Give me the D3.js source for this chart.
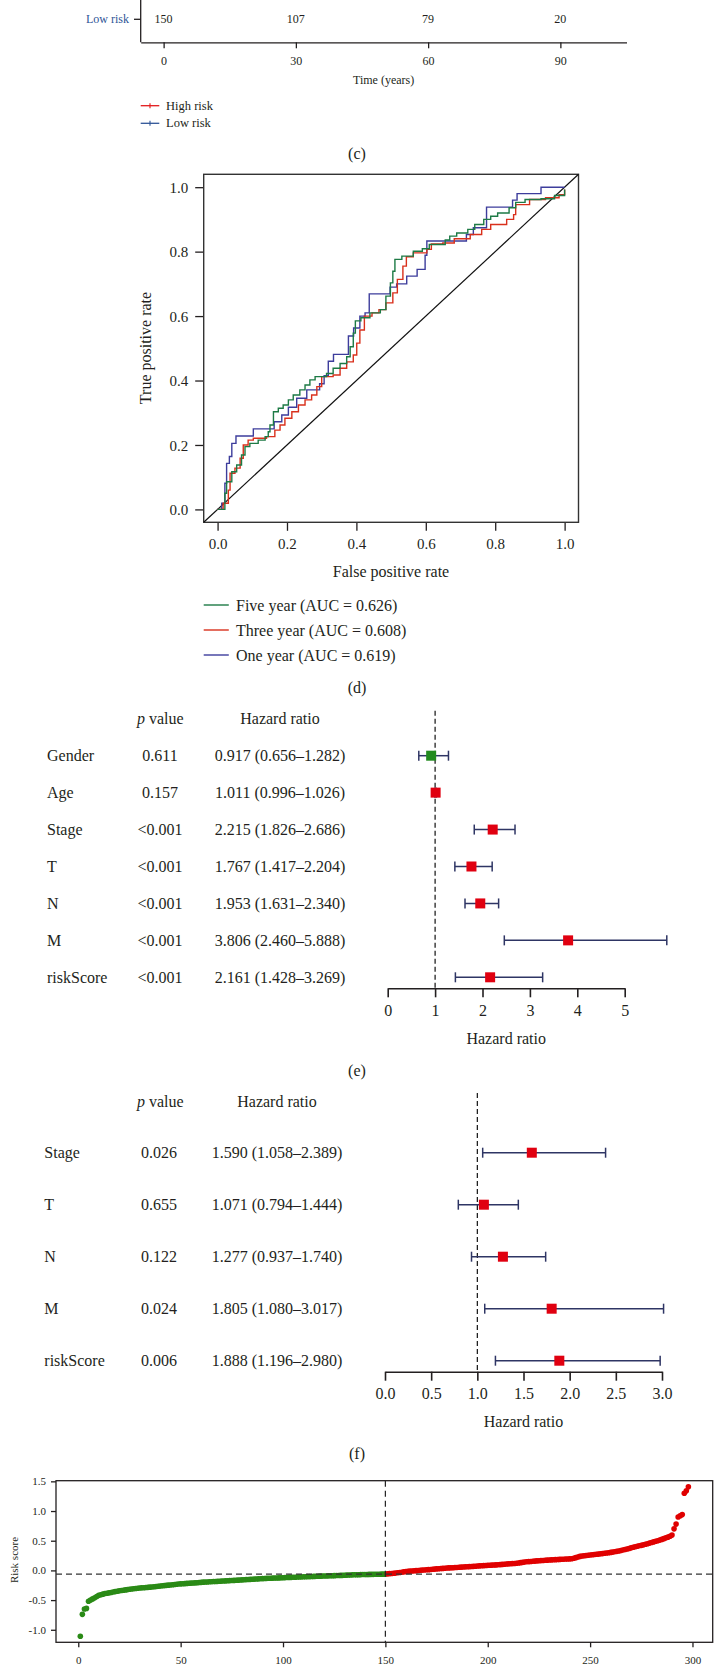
<!DOCTYPE html>
<html><head><meta charset="utf-8">
<script src="https://cdn.jsdelivr.net/npm/d3@7"></script>
<style>
body{margin:0;background:#fff}
svg{display:block;background:#fff}
text{font-family:"Liberation Serif","Times New Roman",serif;fill:#231f20}
</style>
</head><body>
<svg id="fig" width="714" height="1665"></svg>
<script>
// ---------- Panel (c) remnant: number at risk ----------
const kmTimes = [0, 30, 60, 90];
const lowRiskAtRisk = [150, 107, 79, 20];
const kmGroups = ["High risk", "Low risk"];
const kmColors = ["#e31a1c", "#2f5597"];

// ---------- Panel (d): ROC ----------
const rocLabels = ["Five year (AUC = 0.626)", "Three year (AUC = 0.608)", "One year (AUC = 0.619)"];
const rocColors = ["#1d7a45", "#d9301c", "#3d3d9c"];
const rocFiveYear = [[0,0],[0.021,0.05],[0.026,0.086],[0.041,0.117],[0.055,0.138],[0.069,0.169],[0.079,0.195],[0.093,0.205],[0.117,0.215],[0.137,0.226],[0.146,0.241],[0.151,0.262],[0.161,0.303],[0.175,0.314],[0.189,0.324],[0.204,0.34],[0.218,0.355],[0.237,0.371],[0.252,0.386],[0.266,0.402],[0.281,0.412],[0.314,0.422],[0.333,0.438],[0.353,0.453],[0.372,0.474],[0.382,0.505],[0.391,0.547],[0.397,0.585],[0.413,0.595],[0.439,0.61],[0.469,0.62],[0.485,0.662],[0.498,0.703],[0.505,0.739],[0.511,0.776],[0.531,0.786],[0.564,0.801],[0.59,0.809],[0.61,0.822],[0.656,0.836],[0.669,0.848],[0.689,0.858],[0.721,0.869],[0.741,0.884],[0.767,0.9],[0.787,0.91],[0.807,0.92],[0.84,0.936],[0.859,0.953],[0.886,0.962],[0.932,0.964],[0.971,0.974],[1,0.993]];
const rocThreeYear = [[0,0],[0.016,0.019],[0.031,0.06],[0.036,0.112],[0.05,0.128],[0.065,0.159],[0.074,0.2],[0.088,0.215],[0.103,0.221],[0.141,0.226],[0.165,0.246],[0.18,0.262],[0.194,0.283],[0.214,0.303],[0.233,0.324],[0.252,0.34],[0.271,0.355],[0.286,0.381],[0.3,0.412],[0.333,0.417],[0.353,0.438],[0.372,0.458],[0.391,0.479],[0.401,0.516],[0.41,0.557],[0.423,0.6],[0.445,0.61],[0.465,0.62],[0.485,0.641],[0.505,0.672],[0.518,0.714],[0.534,0.755],[0.544,0.784],[0.564,0.796],[0.603,0.807],[0.616,0.824],[0.649,0.827],[0.682,0.84],[0.728,0.853],[0.761,0.869],[0.787,0.884],[0.833,0.9],[0.853,0.915],[0.859,0.946],[0.899,0.962],[0.945,0.967],[0.984,0.977],[1,0.993]];
const rocOneYear = [[0,0],[0.012,0.019],[0.021,0.081],[0.026,0.143],[0.034,0.164],[0.041,0.205],[0.053,0.228],[0.103,0.25],[0.163,0.272],[0.185,0.293],[0.204,0.317],[0.228,0.345],[0.257,0.371],[0.294,0.39],[0.307,0.415],[0.319,0.46],[0.334,0.481],[0.377,0.538],[0.392,0.563],[0.41,0.6],[0.425,0.61],[0.437,0.669],[0.497,0.69],[0.516,0.70],[0.545,0.724],[0.575,0.745],[0.598,0.789],[0.603,0.833],[0.717,0.853],[0.737,0.874],[0.775,0.938],[0.85,0.96],[0.863,0.98],[0.932,1.0],[1.0,1.0]];
const rocTicks = [0, 0.2, 0.4, 0.6, 0.8, 1.0];

// ---------- Panel (e): univariate Cox ----------
const uniVars = ["Gender", "Age", "Stage", "T", "N", "M", "riskScore"];
const uniP = ["0.611", "0.157", "<0.001", "<0.001", "<0.001", "<0.001", "<0.001"];
const uniHR = [0.917, 1.011, 2.215, 1.767, 1.953, 3.806, 2.161];
const uniLow = [0.656, 0.996, 1.826, 1.417, 1.631, 2.460, 1.428];
const uniHigh = [1.282, 1.026, 2.686, 2.204, 2.340, 5.888, 3.269];
const uniTicks = [0, 1, 2, 3, 4, 5];

// ---------- Panel (f): multivariate Cox ----------
const multiVars = ["Stage", "T", "N", "M", "riskScore"];
const multiP = ["0.026", "0.655", "0.122", "0.024", "0.006"];
const multiHR = [1.590, 1.071, 1.277, 1.805, 1.888];
const multiLow = [1.058, 0.794, 0.937, 1.080, 1.196];
const multiHigh = [2.389, 1.444, 1.740, 3.017, 2.980];
const multiTicks = [0, 0.5, 1.0, 1.5, 2.0, 2.5, 3.0];

// ---------- Panel (g): risk score distribution ----------
const lowRiskScores = [
-1.11,-0.74,-0.65,-0.64,-0.52,-0.50,-0.48,-0.46,-0.44,-0.42,
-0.41,-0.40,-0.39,-0.385,-0.378,-0.371,-0.364,-0.357,-0.350,-0.344,
-0.338,-0.333,-0.328,-0.323,-0.318,-0.313,-0.309,-0.305,-0.301,-0.297,
-0.294,-0.291,-0.288,-0.285,-0.282,-0.279,-0.276,-0.272,-0.268,-0.264,
-0.260,-0.256,-0.252,-0.248,-0.245,-0.242,-0.238,-0.234,-0.230,-0.226,
-0.224,-0.222,-0.219,-0.217,-0.215,-0.212,-0.210,-0.207,-0.204,-0.201,
-0.198,-0.196,-0.194,-0.192,-0.190,-0.188,-0.186,-0.184,-0.182,-0.180,
-0.178,-0.176,-0.174,-0.172,-0.170,-0.168,-0.166,-0.164,-0.161,-0.159,
-0.157,-0.155,-0.153,-0.151,-0.149,-0.146,-0.144,-0.142,-0.140,-0.138,
-0.136,-0.134,-0.133,-0.131,-0.130,-0.128,-0.127,-0.126,-0.124,-0.123,
-0.121,-0.120,-0.118,-0.117,-0.115,-0.114,-0.112,-0.111,-0.110,-0.108,
-0.107,-0.105,-0.104,-0.103,-0.101,-0.100,-0.099,-0.097,-0.096,-0.095,
-0.093,-0.092,-0.091,-0.089,-0.088,-0.087,-0.085,-0.084,-0.083,-0.081,
-0.080,-0.078,-0.077,-0.075,-0.074,-0.073,-0.072,-0.071,-0.070,-0.069,
-0.068,-0.067,-0.066,-0.066,-0.065,-0.064,-0.064,-0.063,-0.063,-0.062];
const highRiskScores = [
-0.058,-0.055,-0.052,-0.048,-0.045,-0.040,-0.036,-0.030,-0.025,-0.020,
-0.016,-0.012,-0.009,-0.007,-0.004,-0.001,0.002,0.005,0.008,0.010,
0.013,0.016,0.019,0.022,0.025,0.028,0.031,0.034,0.037,0.040,
0.042,0.044,0.046,0.048,0.050,0.053,0.055,0.057,0.060,0.062,
0.064,0.066,0.068,0.071,0.074,0.077,0.079,0.081,0.083,0.085,
0.087,0.089,0.091,0.093,0.095,0.098,0.101,0.104,0.107,0.110,
0.113,0.115,0.117,0.121,0.126,0.131,0.136,0.140,0.145,0.148,
0.151,0.154,0.157,0.160,0.162,0.165,0.168,0.170,0.173,0.175,
0.177,0.179,0.181,0.183,0.185,0.187,0.189,0.191,0.193,0.195,
0.197,0.205,0.215,0.226,0.236,0.242,0.247,0.251,0.255,0.259,
0.263,0.267,0.271,0.275,0.279,0.283,0.288,0.293,0.298,0.303,
0.308,0.314,0.321,0.328,0.336,0.344,0.352,0.361,0.370,0.380,
0.390,0.398,0.406,0.414,0.422,0.430,0.440,0.450,0.460,0.470,
0.480,0.490,0.500,0.510,0.522,0.535,0.548,0.560,0.575,0.595,
0.70,0.78,0.90,0.92,0.94,1.30,1.34,1.41];
const riskCutoff = -0.062;
const riskYTicks = [-1.0, -0.5, 0.0, 0.5, 1.0, 1.5];
const riskXTicks = [0, 50, 100, 150, 200, 250, 300];
const riskColors = ["#2a8a16", "#e00000"];

// =====================================================
const svg = d3.select("#fig");
const INK = "#231f20";
function styleAxis(g, fs) {
  g.attr("font-family", null).attr("font-size", fs);
  g.selectAll("text").attr("fill", INK);
  g.selectAll("line,path").attr("stroke", INK).attr("stroke-width", 1.3);
}
function panelLabel(t, y) {
  svg.append("text").attr("x", 357).attr("y", y).attr("text-anchor", "middle")
    .attr("dominant-baseline", "central").attr("font-size", 16).text(t);
}

// ---------- (c) ----------
{
  const x = d3.scaleLinear().domain([-5.2, 105]).range([140.7, 626.5]);
  const axisY = 42.3, rowY = 19.3;
  svg.append("line").attr("x1", 140.7).attr("x2", 140.7).attr("y1", 0).attr("y2", axisY)
    .attr("stroke", INK).attr("stroke-width", 1.3);
  const ax = svg.append("g").attr("transform", `translate(0,${axisY})`)
    .call(d3.axisBottom(x).tickValues(kmTimes).tickSize(6).tickSizeOuter(0).tickPadding(8));
  styleAxis(ax, 12);
  svg.append("line").attr("x1", 134).attr("x2", 140.7).attr("y1", rowY).attr("y2", rowY)
    .attr("stroke", INK).attr("stroke-width", 1.3);
  svg.append("text").attr("x", 129).attr("y", rowY).attr("text-anchor", "end")
    .attr("dominant-baseline", "central").attr("font-size", 12).style("fill", kmColors[1]).text("Low risk");
  svg.selectAll(".atrisk").data(lowRiskAtRisk).enter().append("text")
    .attr("x", (d, i) => x(kmTimes[i])).attr("y", rowY).attr("text-anchor", "middle")
    .attr("dominant-baseline", "central").attr("font-size", 12).text(d => d);
  svg.append("text").attr("x", 383.6).attr("y", 80).attr("text-anchor", "middle")
    .attr("dominant-baseline", "central").attr("font-size", 12).text("Time (years)");
  kmGroups.forEach((g, i) => {
    const y = 105.7 + i * 17.6;
    svg.append("line").attr("x1", 140.7).attr("x2", 159.3).attr("y1", y).attr("y2", y)
      .attr("stroke", kmColors[i]).attr("stroke-width", 1.3);
    svg.append("line").attr("x1", 150).attr("x2", 150).attr("y1", y - 2.5).attr("y2", y + 2.5)
      .attr("stroke", kmColors[i]).attr("stroke-width", 1.1);
    svg.append("text").attr("x", 166).attr("y", y).attr("dominant-baseline", "central")
      .attr("font-size", 12.5).text(g);
  });
  panelLabel("(c)", 153);
}

// ---------- (d) ROC ----------
{
  const x = d3.scaleLinear().domain([-0.04, 1.04]).range([203.7, 578.5]);
  const y = d3.scaleLinear().domain([-0.04, 1.04]).range([522.3, 174.3]);
  const fmt = d3.format(".1f");
  const ya = svg.append("g").attr("transform", `translate(${x.range()[0]},0)`)
    .call(d3.axisLeft(y).tickValues(rocTicks).tickFormat(fmt).tickSize(8.5).tickPadding(7));
  ya.select(".domain").remove(); styleAxis(ya, 15);
  ya.selectAll("text").attr("dy", "0.34em");
  const xa = svg.append("g").attr("transform", `translate(0,${y.range()[0]})`)
    .call(d3.axisBottom(x).tickValues(rocTicks).tickFormat(fmt).tickSize(8.5).tickPadding(8));
  xa.select(".domain").remove(); styleAxis(xa, 15);
  svg.append("rect").attr("x", x.range()[0]).attr("y", y.range()[1])
    .attr("width", x.range()[1] - x.range()[0]).attr("height", y.range()[0] - y.range()[1])
    .attr("fill", "none").attr("stroke", "#333").attr("stroke-width", 1.4);
  svg.append("line").attr("x1", x(-0.04)).attr("y1", y(-0.04)).attr("x2", x(1.04)).attr("y2", y(1.04))
    .attr("stroke", "#111").attr("stroke-width", 1.2);
  const line = d3.line().x(d => x(d[0])).y(d => y(d[1])).curve(d3.curveStepAfter);
  const curves = [rocFiveYear, rocThreeYear, rocOneYear];
  [2, 1, 0].forEach(i => {
    svg.append("path").attr("d", line(curves[i])).attr("fill", "none")
      .attr("stroke", rocColors[i]).attr("stroke-width", 1.4);
  });
  svg.append("text").attr("transform", "translate(145,348) rotate(-90)").attr("text-anchor", "middle")
    .attr("dominant-baseline", "central").attr("font-size", 16).text("True positive rate");
  svg.append("text").attr("x", 391).attr("y", 571.7).attr("text-anchor", "middle")
    .attr("dominant-baseline", "central").attr("font-size", 16).text("False positive rate");
  rocLabels.forEach((t, i) => {
    const ly = 605 + i * 25;
    svg.append("line").attr("x1", 203.7).attr("x2", 228.8).attr("y1", ly).attr("y2", ly)
      .attr("stroke", rocColors[i]).attr("stroke-width", 1.4);
    svg.append("text").attr("x", 236).attr("y", ly).attr("dominant-baseline", "central")
      .attr("font-size", 16).text(t);
  });
  panelLabel("(d)", 687);
}

// ---------- Forest plots ----------
function forest(o) {
  const x = d3.scaleLinear().domain([o.ticks[0], o.ticks[o.ticks.length - 1]]).range(o.xr);
  const y = d3.scalePoint().domain(o.vars).range(o.yr);
  // header
  const h = svg.append("text").attr("x", 137).attr("y", o.headY).attr("dominant-baseline", "central").attr("font-size", 16);
  h.append("tspan").attr("font-style", "italic").text("p");
  h.append("tspan").text(" value");
  svg.append("text").attr("x", o.hrX).attr("y", o.headY).attr("text-anchor", "middle")
    .attr("dominant-baseline", "central").attr("font-size", 16).text("Hazard ratio");
  // dashed reference
  svg.append("line").attr("x1", x(1)).attr("x2", x(1)).attr("y1", o.dashTop).attr("y2", o.axisY)
    .attr("stroke", "#111").attr("stroke-width", 1.2).attr("stroke-dasharray", "5,3");
  o.vars.forEach((v, i) => {
    const yy = y(v);
    svg.append("text").attr("x", o.labX).attr("y", yy).attr("dominant-baseline", "central")
      .attr("font-size", 16).text(v);
    svg.append("text").attr("x", o.pX).attr("y", yy).attr("text-anchor", "middle")
      .attr("dominant-baseline", "central").attr("font-size", 16).text(o.p[i]);
    svg.append("text").attr("x", o.hrX).attr("y", yy).attr("text-anchor", "middle")
      .attr("dominant-baseline", "central").attr("font-size", 16)
      .text(`${o.hr[i].toFixed(3)} (${o.lo[i].toFixed(3)}\u2013${o.hi[i].toFixed(3)})`);
    const c = "#2e3564";
    svg.append("line").attr("x1", x(o.lo[i])).attr("x2", x(o.hi[i])).attr("y1", yy).attr("y2", yy)
      .attr("stroke", c).attr("stroke-width", 1.5);
    [o.lo[i], o.hi[i]].forEach(e => svg.append("line").attr("x1", x(e)).attr("x2", x(e))
      .attr("y1", yy - 5).attr("y2", yy + 5).attr("stroke", c).attr("stroke-width", 1.5));
    svg.append("rect").attr("x", x(o.hr[i]) - 5).attr("y", yy - 5).attr("width", 10).attr("height", 10)
      .attr("fill", o.hr[i] < 1 ? "#228b1e" : "#e00010");
  });
  const ax = svg.append("g").attr("transform", `translate(0,${o.axisY})`)
    .call(d3.axisBottom(x).tickValues(o.ticks).tickFormat(o.fmt).tickSize(9).tickSizeOuter(0).tickPadding(7));
  styleAxis(ax, 16);
  ax.selectAll("line,path").attr("stroke-width", 1.6);
  svg.append("text").attr("x", (o.xr[0] + o.xr[1]) / 2).attr("y", o.titleY).attr("text-anchor", "middle")
    .attr("dominant-baseline", "central").attr("font-size", 16).text("Hazard ratio");
}
forest({vars: uniVars, p: uniP, hr: uniHR, lo: uniLow, hi: uniHigh, ticks: uniTicks, fmt: d3.format("d"),
  xr: [387.7, 624.7], yr: [755.7, 977.3], axisY: 988.3, dashTop: 710.7, headY: 718,
  labX: 47, pX: 160, hrX: 280, titleY: 1038});
panelLabel("(e)", 1070);
forest({vars: multiVars, p: multiP, hr: multiHR, lo: multiLow, hi: multiHigh, ticks: multiTicks, fmt: d3.format(".1f"),
  xr: [385, 662], yr: [1152.7, 1360.7], axisY: 1371.7, dashTop: 1093, headY: 1101,
  labX: 44.3, pX: 159, hrX: 277, titleY: 1421});
panelLabel("(f)", 1453);

// ---------- Risk score plot ----------
{
  const scores = lowRiskScores.concat(highRiskScores);
  const n = scores.length;
  const padX = 0.04 * (n - 1);
  const x = d3.scaleLinear().domain([1 - padX, n + padX]).range([56, 712.7]);
  const [mn, mx] = d3.extent(scores);
  const padY = 0.04 * (mx - mn);
  const y = d3.scaleLinear().domain([mn - padY, mx + padY]).range([1642.3, 1480.7]);
  svg.append("rect").attr("x", 56).attr("y", 1480.7).attr("width", 712.7 - 56).attr("height", 1642.3 - 1480.7)
    .attr("fill", "none").attr("stroke", INK).attr("stroke-width", 1.3);
  const ya = svg.append("g").attr("transform", "translate(56,0)")
    .call(d3.axisLeft(y).tickValues(riskYTicks).tickFormat(d => d.toFixed(1)).tickSize(5).tickPadding(5));
  ya.select(".domain").remove(); styleAxis(ya, 11);
  const xa = svg.append("g").attr("transform", "translate(0,1642.3)")
    .call(d3.axisBottom(x).tickValues(riskXTicks).tickSize(5).tickPadding(9));
  xa.select(".domain").remove(); styleAxis(xa, 11);
  svg.append("g").selectAll("circle").data(scores).enter().append("circle")
    .attr("cx", (d, i) => x(i + 1)).attr("cy", d => y(d)).attr("r", 2.8)
    .attr("fill", (d, i) => i < lowRiskScores.length ? riskColors[0] : riskColors[1]);
  svg.append("line").attr("x1", 56).attr("x2", 712.7).attr("y1", y(riskCutoff)).attr("y2", y(riskCutoff))
    .attr("stroke", "#333").attr("stroke-width", 1.3).attr("stroke-dasharray", "6,4");
  svg.append("line").attr("x1", x(lowRiskScores.length)).attr("x2", x(lowRiskScores.length))
    .attr("y1", 1480.7).attr("y2", 1642.3)
    .attr("stroke", "#222").attr("stroke-width", 1.2).attr("stroke-dasharray", "6,4");
  svg.append("text").attr("transform", "translate(13.7,1560) rotate(-90)").attr("text-anchor", "middle")
    .attr("dominant-baseline", "central").attr("font-size", 11).text("Risk score");
}
</script>
</body></html>
